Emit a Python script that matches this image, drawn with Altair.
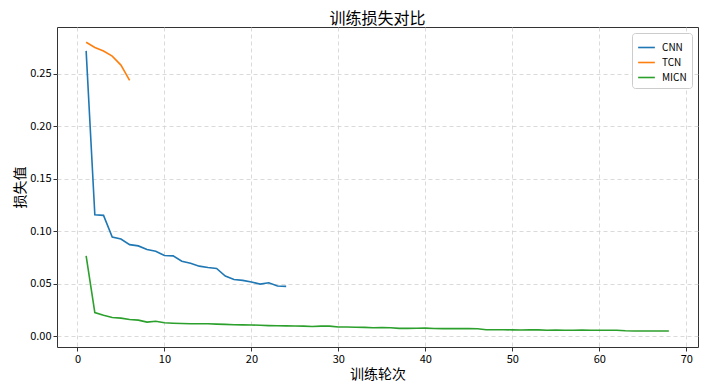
import altair as alt
import pandas as pd

cnn = [0.2720, 0.1158, 0.1152, 0.0946, 0.0927, 0.0873, 0.0861, 0.0826, 0.0810, 0.0769,
       0.0766, 0.0715, 0.0696, 0.0668, 0.0655, 0.0646, 0.0573, 0.0541, 0.0532, 0.0516,
       0.0497, 0.0509, 0.0478, 0.0475]
tcn = [0.2803, 0.2753, 0.2719, 0.2670, 0.2585, 0.2440]
micn = [0.0766, 0.0225, 0.0200, 0.0178, 0.0172, 0.0159, 0.0153, 0.0134, 0.0142, 0.0128,
        0.0124, 0.0121, 0.0119, 0.0118, 0.0118, 0.0115, 0.0113, 0.0109, 0.0108, 0.0107,
        0.0104, 0.0101, 0.0099, 0.0098, 0.0097, 0.0096, 0.0093, 0.0096, 0.0096, 0.0088,
        0.0088, 0.0086, 0.0084, 0.0080, 0.0083, 0.0081, 0.0075, 0.0075, 0.0076, 0.0077,
        0.0074, 0.0072, 0.0072, 0.0072, 0.0072, 0.0071, 0.0062, 0.0061, 0.0062, 0.0060,
        0.0059, 0.0060, 0.0060, 0.0057, 0.0059, 0.0056, 0.0057, 0.0058, 0.0057, 0.0056,
        0.0056, 0.0057, 0.0052, 0.0050, 0.0050, 0.0050, 0.0050, 0.0049]
models = ["CNN", "TCN", "MICN"]
colors = ["#1f77b4", "#ff7f0e", "#2ca02c"]
x_ticks = [0, 10, 20, 30, 40, 50, 60, 70]
y_ticks = [0.0, 0.05, 0.10, 0.15, 0.20, 0.25]

rows = []
for name, vals in zip(models, [cnn, tcn, micn]):
    for i, v in enumerate(vals):
        rows.append({"epoch": i + 1, "loss": v, "model": name})
df = pd.DataFrame(rows)

FONT = "Noto Sans CJK SC"

chart = alt.Chart(df).mark_line(strokeWidth=1.6, clip=True).encode(
    x=alt.X("epoch:Q",
            scale=alt.Scale(domain=[-2.35, 71.35], nice=False, zero=False),
            axis=alt.Axis(values=x_ticks, title="训练轮次", format="d")),
    y=alt.Y("loss:Q",
            scale=alt.Scale(domain=[-0.0103, 0.2948], nice=False, zero=False),
            axis=alt.Axis(values=y_ticks, title="损失值", format=".2f", titlePadding=2)),
    color=alt.Color("model:N",
                    scale=alt.Scale(domain=models, range=colors),
                    sort=models,
                    legend=alt.Legend(title=None, orient="top-right", offset=6,
                                      symbolType="stroke", symbolStrokeWidth=1.6,
                                      symbolSize=280, labelFontSize=10, labelFont=FONT,
                                      padding=5, strokeColor="#cccccc", cornerRadius=3,
                                      fillColor="white", rowPadding=0, labelOffset=6)),
    detail="model:N",
).properties(
    width=641, height=320,
    title=alt.Title("训练损失对比", fontSize=16, font=FONT, fontWeight="normal",
                    color="black", offset=0),
    autosize=alt.AutoSizeParams(type="none"),
    padding={"left": 49, "top": 19, "right": 1, "bottom": 36},
).configure_view(
    stroke="#333333", strokeWidth=1
).configure_axis(
    labelFont=FONT, titleFont=FONT, labelFontSize=11, titleFontSize=14,
    titleFontWeight="normal", labelColor="black", titleColor="black",
    grid=True, gridColor="#d0d0d0", gridDash=[4, 3], gridWidth=0.8,
    domain=False, tickColor="#333333", tickSize=4, labelPadding=2, titlePadding=3,
)

chart.save("out.html", embed_options={"renderer": "svg", "actions": False})
